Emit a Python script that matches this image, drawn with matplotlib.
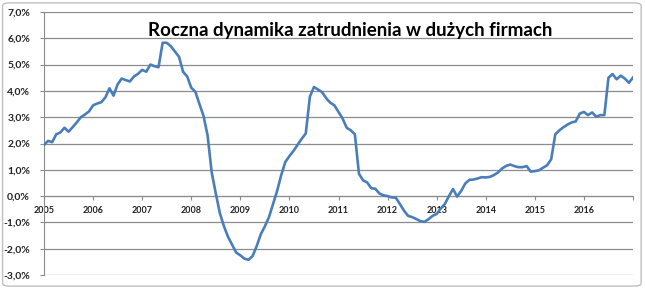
import matplotlib.pyplot as plt
import numpy as np
from matplotlib.patches import FancyBboxPatch
from matplotlib.ticker import FuncFormatter

# monthly y/y change of employment in large firms, %
v2005 = [1.95, 2.1, 2.05, 2.35, 2.42, 2.6, 2.45, 2.62, 2.8, 3.0, 3.1, 3.22]
v2006 = [3.45, 3.52, 3.57, 3.75, 4.1, 3.82, 4.25, 4.47, 4.41, 4.36, 4.55, 4.65]
v2007 = [4.8, 4.73, 5.0, 4.94, 4.9, 5.83, 5.83, 5.7, 5.5, 5.3, 4.73, 4.55]
v2008 = [4.12, 3.97, 3.5, 3.05, 2.3, 0.9, 0.1, -0.65, -1.15, -1.55, -1.85, -2.15]
v2009 = [-2.25, -2.38, -2.42, -2.28, -1.9, -1.45, -1.15, -0.8, -0.3, 0.2, 0.8, 1.3]
v2010 = [1.52, 1.72, 1.95, 2.18, 2.38, 3.78, 4.15, 4.05, 3.95, 3.72, 3.55, 3.45]
v2011 = [3.2, 2.95, 2.6, 2.5, 2.35, 0.85, 0.6, 0.52, 0.3, 0.28, 0.1, 0.03]
v2012 = [0.0, -0.05, -0.06, -0.3, -0.55, -0.75, -0.8, -0.87, -0.95, -0.98, -0.88, -0.75]
v2013 = [-0.68, -0.47, -0.3, 0.0, 0.27, -0.02, 0.2, 0.48, 0.62, 0.63, 0.67, 0.72]
v2014 = [0.71, 0.73, 0.8, 0.9, 1.05, 1.15, 1.2, 1.14, 1.1, 1.1, 1.14, 0.93]
v2015 = [0.95, 0.98, 1.08, 1.17, 1.4, 2.35, 2.5, 2.62, 2.72, 2.8, 2.84, 3.14]
v2016 = [3.2, 3.08, 3.18, 3.02, 3.08, 3.08, 4.5, 4.64, 4.44, 4.58, 4.47, 4.31]
v2017 = [4.51]

years = list(range(2005, 2018))
year_labels = [str(y) for y in range(2005, 2017)] + [""]
title = "Roczna dynamika zatrudnienia w dużych firmach"

values = np.array(v2005 + v2006 + v2007 + v2008 + v2009 + v2010 + v2011
                  + v2012 + v2013 + v2014 + v2015 + v2016 + v2017)
dates = 2005 + np.arange(len(values)) / 12

grid_c = "#8c8c8c"
line_c = "#4a7ebb"

fig = plt.figure(figsize=(6.45, 2.89), dpi=100)
border = FancyBboxPatch((0.004, 0.01), 0.99, 0.98, boxstyle="round,pad=0,rounding_size=0.01",
                        transform=fig.transFigure, fc="white", ec="#bfbfbf", lw=1, zorder=-5)
fig.patches.append(border)
ax = fig.add_axes([44 / 645, 1 - 275 / 289, 589 / 645, 263 / 289])
ax.set_facecolor("none")

ax.plot(dates, values, color=line_c, lw=1.9, solid_joinstyle="round", zorder=3)

ax.set_xlim(2005, 2017)
ax.set_ylim(-3, 7)
ax.set_yticks(np.arange(-3, 8))
ax.yaxis.set_major_formatter(FuncFormatter(lambda v, p: f"{v:.1f}%".replace(".", ",")))
ax.grid(axis="y", color=grid_c, lw=0.9)
ax.set_axisbelow(True)

ax.set_xticks(years)
ax.set_xticklabels(year_labels)

for s in ["top", "right"]:
    ax.spines[s].set_visible(False)
ax.spines["left"].set_color(grid_c)
ax.spines["bottom"].set_color(grid_c)
ax.spines["bottom"].set_position(("data", 0))

ax.tick_params(axis="y", length=3, color=grid_c, pad=7, labelsize=7.5, labelcolor="#222222")
ax.tick_params(axis="x", length=3, color=grid_c, pad=4, labelsize=6.5, labelcolor="#222222")
for lab in ax.get_yticklabels() + ax.get_xticklabels():
    lab.set_fontweight("bold")
    lab.set_family("Lato")

fig.text(0.543, 0.895, title, ha="center", va="center", fontsize=13.5,
         fontweight="bold", family="Lato")

fig.savefig("out.png", dpi=100)
